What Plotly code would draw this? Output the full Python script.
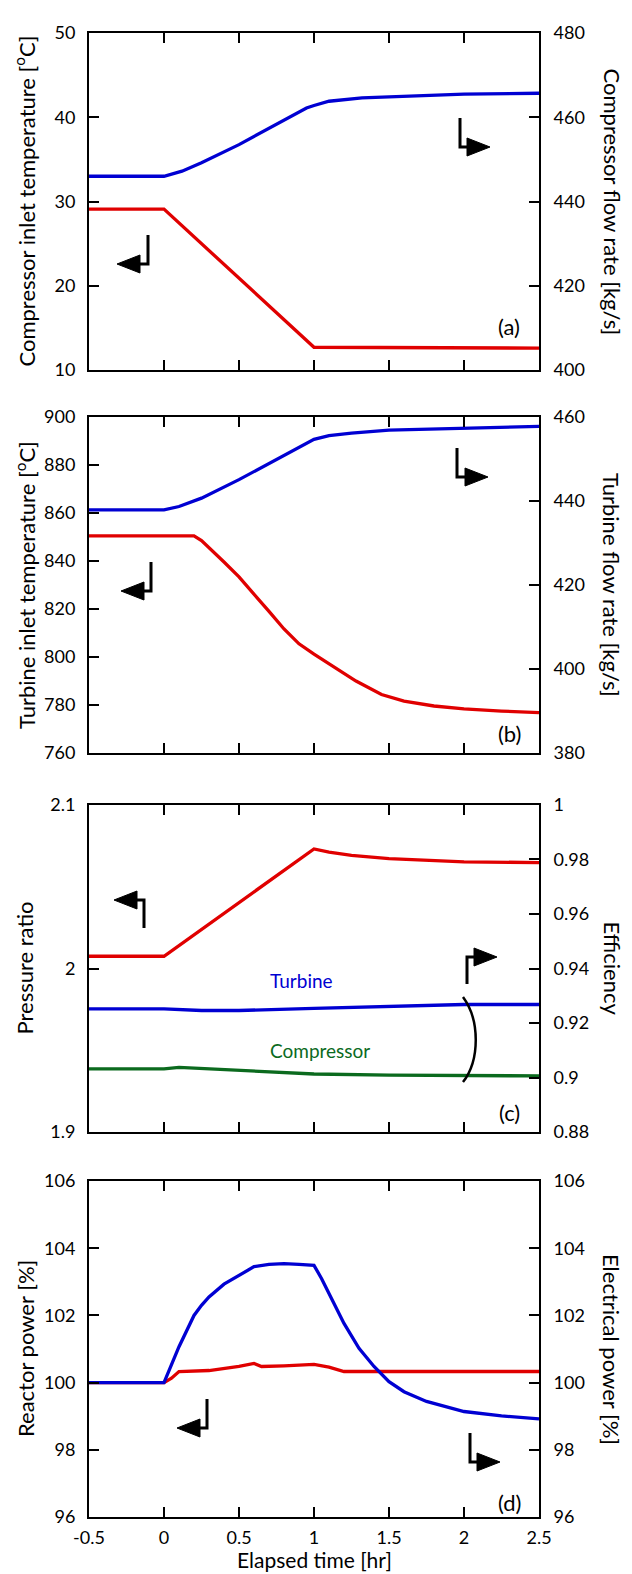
import plotly.graph_objects as go

# ---------------- data ----------------
x_ticks = [-0.5, 0, 0.5, 1, 1.5, 2, 2.5]
x_ticktext = ["-0.5", "0", "0.5", "1", "1.5", "2", "2.5"]

# (a)
t_comp_temp = [-0.5, 0.0, 1.0, 1.5, 2.0, 2.5]
comp_inlet_temp = [29.1, 29.1, 12.7, 12.65, 12.6, 12.6]
t_comp_flow = [-0.5, 0.0, 0.12, 0.25, 0.5, 0.75, 0.95, 1.0, 1.1, 1.32, 1.59, 2.0, 2.5]
comp_flow = [446.0, 446.0, 447.2, 449.2, 453.5, 458.3, 462.2, 462.8, 463.8, 464.6, 465.0, 465.5, 465.7]

# (b)
t_turb_temp = [-0.5, 0.2, 0.25, 0.3, 0.4, 0.5, 0.6, 0.7, 0.8, 0.9, 1.0, 1.1, 1.18, 1.28, 1.45,
               1.6, 1.8, 2.0, 2.25, 2.5]
turb_inlet_temp = [850.5, 850.5, 848.5, 845.6, 839.6, 833.4, 826.4, 819.0, 811.7, 805.5, 801.2,
                   797.3, 794.2, 790.0, 784.4, 781.6, 779.6, 778.4, 777.5, 776.8]
t_turb_flow = [-0.5, 0.0, 0.1, 0.25, 0.5, 0.75, 1.0, 1.1, 1.25, 1.5, 2.0, 2.5]
turb_flow = [437.9, 437.9, 438.7, 440.7, 445.1, 449.9, 454.7, 455.6, 456.2, 456.9, 457.4, 457.8]

# (c)
t_press = [-0.5, 0.0, 1.0, 1.1, 1.25, 1.5, 2.0, 2.5]
pressure_ratio = [2.0075, 2.0075, 2.0731, 2.0712, 2.0692, 2.0672, 2.0652, 2.0648]
t_turb_eff = [-0.5, 0.0, 0.25, 0.5, 1.0, 1.5, 2.0, 2.5]
turb_eff = [0.9252, 0.9252, 0.9246, 0.9246, 0.9254, 0.9261, 0.9268, 0.9268]
t_comp_eff = [-0.5, 0.0, 0.1, 0.5, 1.0, 1.5, 2.0, 2.5]
comp_eff = [0.9032, 0.9032, 0.9037, 0.9025, 0.9013, 0.9009, 0.9006, 0.9006]

# (d)
t_reactor = [-0.5, 0.0, 0.05, 0.1, 0.3, 0.5, 0.6, 0.65, 0.8, 1.0, 1.1, 1.2, 2.5]
reactor_power = [100, 100, 100.13, 100.33, 100.36, 100.48, 100.57, 100.48, 100.5, 100.54,
                 100.46, 100.33, 100.33]
t_elec = [-0.5, 0.0, 0.1, 0.2, 0.25, 0.3, 0.4, 0.5, 0.6, 0.7, 0.8, 0.9, 1.0, 1.05, 1.1, 1.15,
          1.2, 1.3, 1.4, 1.5, 1.6, 1.75, 2.0, 2.25, 2.5]
elec_power = [100, 100, 101.07, 102.0, 102.3, 102.55, 102.93, 103.2, 103.45, 103.52, 103.54,
              103.52, 103.49, 103.1, 102.65, 102.2, 101.76, 101.02, 100.48, 100.03, 99.73,
              99.44, 99.14, 99.01, 98.92]

left_titles = ["Compressor inlet temperature [<sup>o</sup>C]",
               "Turbine inlet temperature [<sup>o</sup>C]",
               "Pressure ratio", "Reactor power [%]"]
right_titles = ["Compressor flow rate [kg/s]", "Turbine flow rate [kg/s]",
                "Efficiency", "Electrical power [%]"]
panel_tags = ["(a)", "(b)", "(c)", "(d)"]
left_ranges = [[10, 50], [760, 900], [1.9, 2.1], [96, 106]]
left_dticks = [10, 20, 0.1, 2]
right_ranges = [[400, 480], [380, 460], [0.88, 1.0], [96, 106]]
right_dticks = [20, 20, 0.02, 2]

# ---------------- layout geometry ----------------
W, H = 632, 1574
ML, MR, MT, MB = 89, 93, 33, 57
PW = W - ML - MR
PH = H - MT - MB
domains = [[0.7729, 1.0], [0.5148, 0.7412], [0.2594, 0.4798], [0.0, 0.2264]]

RED = "#e00000"
BLUE = "#0000d2"
GREEN = "#0b6a1e"
FONT = "Lato"


def px(x):
    return (x - ML) / PW


def py(y):
    return (H - MB - y) / PH


fig = go.Figure()

series = [
    (0, "left", t_comp_temp, comp_inlet_temp, RED),
    (0, "right", t_comp_flow, comp_flow, BLUE),
    (1, "left", t_turb_temp, turb_inlet_temp, RED),
    (1, "right", t_turb_flow, turb_flow, BLUE),
    (2, "left", t_press, pressure_ratio, RED),
    (2, "right", t_turb_eff, turb_eff, BLUE),
    (2, "right", t_comp_eff, comp_eff, GREEN),
    (3, "left", t_reactor, reactor_power, RED),
    (3, "right", t_elec, elec_power, BLUE),
]
for p, side, xs, ys, col in series:
    xa = "x" if p == 0 else f"x{p + 1}"
    yi = 2 * p + 1 if side == "left" else 2 * p + 2
    ya = "y" if yi == 1 else f"y{yi}"
    fig.add_trace(go.Scatter(x=xs, y=ys, mode="lines", xaxis=xa, yaxis=ya,
                             line=dict(color=col, width=3.3),
                             showlegend=False, hoverinfo="skip"))

axis_common = dict(showgrid=False, zeroline=False, showline=True, linecolor="black",
                   linewidth=2, ticks="inside", ticklen=10, tickwidth=1.6,
                   tickcolor="black", tickfont=dict(family=FONT, size=18, color="black"))

layout = dict(width=W, height=H, margin=dict(l=ML, r=MR, t=MT, b=MB),
              paper_bgcolor="white", plot_bgcolor="white", showlegend=False,
              font=dict(family=FONT, color="black"))

for p in range(4):
    xkey = "xaxis" if p == 0 else f"xaxis{p + 1}"
    lkey = f"yaxis{2 * p + 1}" if p > 0 else "yaxis"
    rkey = f"yaxis{2 * p + 2}"
    lid = "y" if p == 0 else f"y{2 * p + 1}"
    xid = "x" if p == 0 else f"x{p + 1}"
    layout[xkey] = dict(axis_common, domain=[0, 1], range=[-0.5, 2.5], anchor=lid,
                        tickvals=x_ticks, ticktext=x_ticktext, mirror="ticks",
                        showticklabels=(p == 3), ticklabelstandoff=3)
    layout[lkey] = dict(axis_common, domain=domains[p], range=left_ranges[p],
                        dtick=left_dticks[p], tick0=left_ranges[p][0], anchor=xid,
                        ticklabelstandoff=8)
    layout[rkey] = dict(axis_common, overlaying=lid, side="right",
                        range=right_ranges[p], dtick=right_dticks[p],
                        tick0=right_ranges[p][0], anchor=xid, ticklabelstandoff=9)

fig.update_layout(**layout)

annotations = []
for p in range(4):
    yc = (domains[p][0] + domains[p][1]) / 2
    annotations.append(dict(xref="paper", yref="paper", x=px(25), y=yc, text=left_titles[p],
                            textangle=-90, showarrow=False, xanchor="center", yanchor="middle",
                            font=dict(family=FONT, size=22, color="black")))
    annotations.append(dict(xref="paper", yref="paper", x=px(612), y=yc, text=right_titles[p],
                            textangle=90, showarrow=False, xanchor="center", yanchor="middle",
                            font=dict(family=FONT, size=22, color="black")))

for tag, ypix in zip(panel_tags, [327, 733, 1112, 1502]):
    annotations.append(dict(xref="paper", yref="paper", x=px(509), y=py(ypix), text=tag,
                            showarrow=False, xanchor="center", yanchor="middle",
                            font=dict(family=FONT, size=22, color="black")))

annotations.append(dict(xref="paper", yref="paper", x=0.5, y=py(1574), text="Elapsed time [hr]",
                        showarrow=False, xanchor="center", yanchor="bottom",
                        font=dict(family=FONT, size=21, color="black")))
annotations.append(dict(xref="paper", yref="paper", x=px(301), y=py(980), text="Turbine",
                        showarrow=False, xanchor="center", yanchor="middle",
                        font=dict(family=FONT, size=19, color=BLUE)))
annotations.append(dict(xref="paper", yref="paper", x=px(320), y=py(1050), text="Compressor",
                        showarrow=False, xanchor="center", yanchor="middle",
                        font=dict(family=FONT, size=19, color=GREEN)))
fig.update_layout(annotations=annotations)

# elbow arrows: (vertical x, y start, y elbow, tip x)
arrows = [
    (460, 118, 147, 490), (148, 235, 264, 117),
    (457, 448, 477, 488), (151, 562, 591, 121),
    (144, 928, 900, 114), (467, 984, 957, 497),
    (207, 1399, 1428, 177), (470, 1433, 1462, 500),
]
shapes = []
HEAD_L, HEAD_W = 23, 9
for vx, y0, y1, tip in arrows:
    d = 1 if tip > vx else -1
    base = tip - d * HEAD_L
    shapes.append(dict(type="path", xref="paper", yref="paper",
                       path=f"M {px(vx)},{py(y0)} L {px(vx)},{py(y1)} L {px(base)},{py(y1)}",
                       line=dict(color="black", width=3)))
    shapes.append(dict(type="path", xref="paper", yref="paper",
                       path=(f"M {px(tip)},{py(y1)} L {px(base)},{py(y1 - HEAD_W)} "
                             f"L {px(base)},{py(y1 + HEAD_W)} Z"),
                       fillcolor="black", line=dict(color="black", width=1)))
# bracket in panel (c)
shapes.append(dict(type="path", xref="paper", yref="paper",
                   path=(f"M {px(463)},{py(997)} C {px(480)},{py(1020)} {px(480)},{py(1060)} "
                         f"{px(463)},{py(1082)}"),
                   line=dict(color="black", width=2.5)))
fig.update_layout(shapes=shapes)

fig.write_html("out.html")
